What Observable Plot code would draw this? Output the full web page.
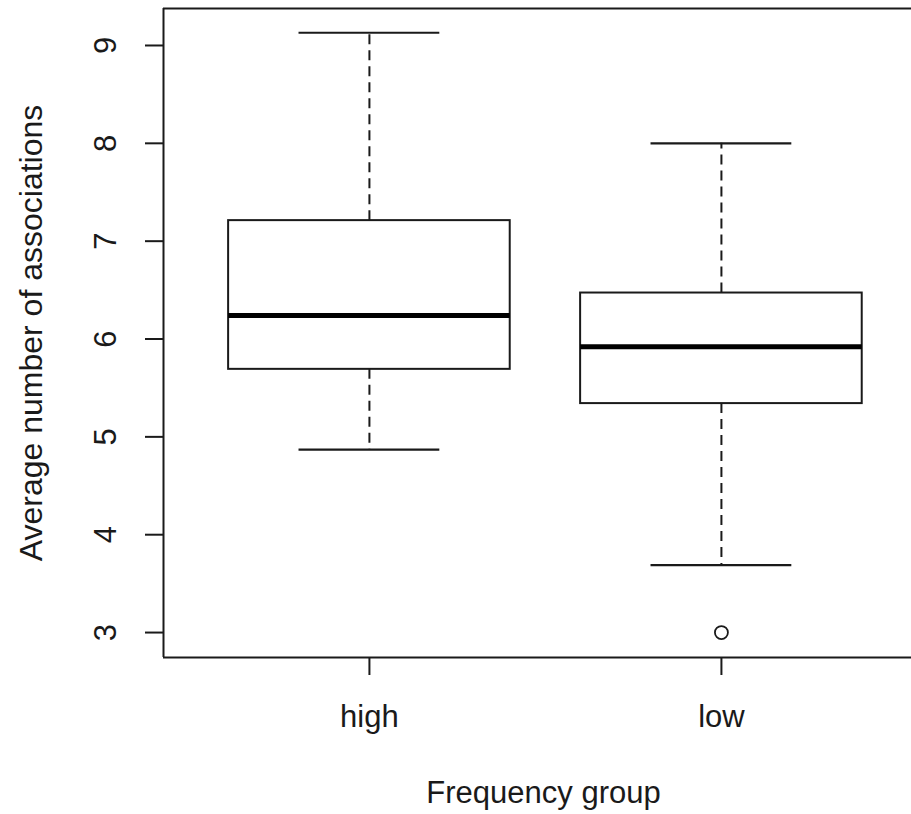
<!DOCTYPE html>
<html>
<head>
<meta charset="utf-8">
<script src="https://cdn.jsdelivr.net/npm/d3@7"></script>
<script src="https://cdn.jsdelivr.net/npm/@observablehq/plot@0.6"></script>
<style>
  html, body { margin: 0; padding: 0; background: #fff; }
</style>
</head>
<body>
<div id="chart"></div>
<script>
// Data
const groups = ["high", "low"];
const whiskerLow = [4.87, 3.69];
const q1 = [5.69, 5.34];
const median = [6.24, 5.92];
const q3 = [7.21, 6.47];
const whiskerHigh = [9.13, 8.00];
const outlierGroup = ["low"];
const outlierValue = [3.0];
const yTicks = [3, 4, 5, 6, 7, 8, 9];
const xTitle = "Frequency group";
const yTitle = "Average number of associations";

const xDomain = [0.415, 2.54];
const yDomain = [2.745, 9.378];
const boxHalf = 0.4;
const capHalf = 0.2;

const stats = groups.map((g, i) => ({
  g, pos: i + 1,
  lo: whiskerLow[i], q1: q1[i], med: median[i], q3: q3[i], hi: whiskerHigh[i]
}));
const outliers = outlierGroup.map((g, i) => ({pos: groups.indexOf(g) + 1, v: outlierValue[i]}));

const ink = "#1a1a1a";
const font = "Liberation Sans, Arial, sans-serif";
const fs = 31;

const chart = Plot.plot({
  width: 911,
  height: 814,
  marginTop: 8,
  marginBottom: 157,
  marginLeft: 163,
  marginRight: 0,
  style: {fontFamily: font, fontSize: fs + "px", color: ink, background: "#fff"},
  x: {type: "linear", domain: xDomain, axis: null},
  y: {domain: yDomain, axis: null},
  marks: [
    // frame (top, left, bottom)
    Plot.ruleY([yDomain[1]], {stroke: ink, strokeWidth: 2}),
    Plot.ruleY([yDomain[0]], {stroke: ink, strokeWidth: 2}),
    Plot.ruleX([xDomain[0]], {stroke: ink, strokeWidth: 2}),
    // whiskers (dashed)
    Plot.ruleX(stats, {x: "pos", y1: "q3", y2: "hi", stroke: ink, strokeWidth: 2, strokeDasharray: "10,6"}),
    Plot.ruleX(stats, {x: "pos", y1: "q1", y2: "lo", stroke: ink, strokeWidth: 2, strokeDasharray: "10,6"}),
    // staples
    Plot.ruleY(stats, {y: "hi", x1: d => d.pos - capHalf, x2: d => d.pos + capHalf, stroke: ink, strokeWidth: 2.2}),
    Plot.ruleY(stats, {y: "lo", x1: d => d.pos - capHalf, x2: d => d.pos + capHalf, stroke: ink, strokeWidth: 2.2}),
    // boxes
    Plot.rect(stats, {x1: d => d.pos - boxHalf, x2: d => d.pos + boxHalf, y1: "q1", y2: "q3", fill: "white", stroke: ink, strokeWidth: 2}),
    // medians
    Plot.ruleY(stats, {y: "med", x1: d => d.pos - boxHalf, x2: d => d.pos + boxHalf, stroke: "#000", strokeWidth: 5}),
    // outliers
    Plot.dot(outliers, {x: "pos", y: "v", r: 6.5, stroke: ink, strokeWidth: 1.8, fill: "none"}),
    // x axis
    Plot.axisX(stats.map(d => d.pos), {
      tickFormat: v => groups[v - 1], tickSize: 18, tickPadding: 29,
      stroke: ink, strokeWidth: 2, fontSize: fs, fill: ink, label: null
    }),
    // y axis ticks
    Plot.axisY(yTicks, {tickSize: 18, tickFormat: () => "", stroke: ink, strokeWidth: 2, label: null}),
    // y tick labels (rotated like R)
    Plot.text(yTicks, {y: d => d, text: d => String(d), frameAnchor: "left", dx: -57, rotate: -90,
      textAnchor: "middle", lineAnchor: "middle", fontSize: fs, fill: ink}),
    // axis titles
    Plot.text([xTitle], {text: d => d, frameAnchor: "bottom", dx: 6, dy: 136, textAnchor: "middle",
      lineAnchor: "middle", fontSize: fs, fill: ink}),
    Plot.text([yTitle], {text: d => d, frameAnchor: "left", dx: -132, rotate: -90,
      textAnchor: "middle", lineAnchor: "middle", fontSize: 32, fill: ink})
  ]
});
document.getElementById("chart").appendChild(chart);
</script>
</body>
</html>
